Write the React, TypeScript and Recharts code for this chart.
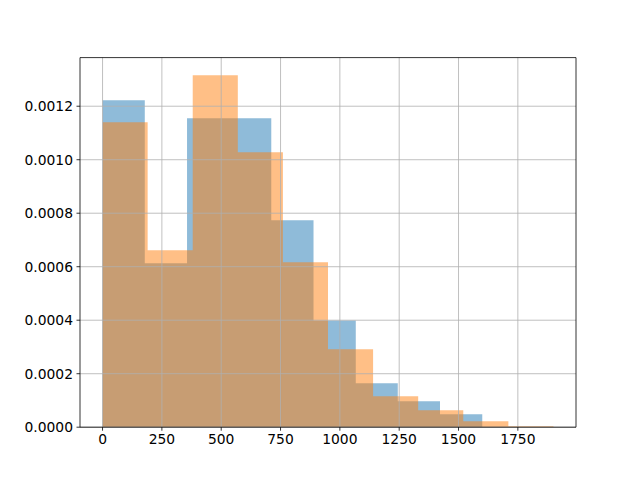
// Two overlapping density histograms (alpha 0.5), drawn as step areas.

import React from 'react'
import {
  ComposedChart,
  Area,
  XAxis,
  YAxis,
  ReferenceLine,
} from 'recharts'

const blueEdges = [0, 178, 356, 533, 711, 889, 1067, 1244, 1422, 1600]
const blueDensity = [0.001222, 0.000613, 0.001155, 0.001155, 0.000774, 0.000399, 0.000164, 0.0000972, 0.0000486]

const orangeEdges = [0, 190, 380, 570, 760, 950, 1140, 1330, 1520, 1710, 1900]
const orangeDensity = [0.00114, 0.000662, 0.001316, 0.001028, 0.000617, 0.000291, 0.000116, 0.0000636, 0.0000224, 0.000004]

const xTicks = [0, 250, 500, 750, 1000, 1250, 1500, 1750]
const yTicks = [0, 0.0002, 0.0004, 0.0006, 0.0008, 0.001, 0.0012]

const X_DOMAIN: [number, number] = [-95, 1995]
const Y_DOMAIN: [number, number] = [0, 0.0013818]

const BLUE = '#1f77b4'
const ORANGE = '#ff7f0e'
const GRID = '#b0b0b0'
const FONT = { fontSize: 13.89, fill: '#000', fontFamily: 'DejaVu Sans' }

function binValue(edges: number[], dens: number[], x: number): number {
  for (let i = 0; i < dens.length; i++) {
    if (x >= edges[i] && x < edges[i + 1]) return dens[i]
  }
  return 0
}

const allEdges = Array.from(new Set([...blueEdges, ...orangeEdges])).sort((a, b) => a - b)
const data = allEdges.map((x) => ({
  x,
  blue: binValue(blueEdges, blueDensity, x),
  orange: binValue(orangeEdges, orangeDensity, x),
}))

export default function App() {
  return (
    <div style={{ position: 'absolute', left: 0, top: 0, width: 640, height: 480, background: '#fff' }}>
      <ComposedChart
        width={640}
        height={480}
        data={data}
        margin={{ top: 57.6, right: 64, left: 0, bottom: 0 }}
      >
        <XAxis
          dataKey="x"
          type="number"
          domain={X_DOMAIN}
          ticks={xTicks}
          allowDataOverflow
          height={52.8}
          tick={FONT}
          tickSize={3.5}
          tickMargin={3.5}
          axisLine={false}
          tickLine={{ stroke: '#000', strokeWidth: 0.8 }}
        />
        <YAxis
          type="number"
          domain={Y_DOMAIN}
          ticks={yTicks}
          allowDataOverflow
          width={80}
          tick={FONT}
          tickFormatter={(v: number) => v.toFixed(4)}
          tickSize={3.5}
          tickMargin={3.5}
          axisLine={false}
          tickLine={{ stroke: '#000', strokeWidth: 0.8 }}
        />
        <Area
          type="stepAfter"
          dataKey="blue"
          fill={BLUE}
          fillOpacity={0.5}
          stroke="none"
          isAnimationActive={false}
        />
        <Area
          type="stepAfter"
          dataKey="orange"
          fill={ORANGE}
          fillOpacity={0.5}
          stroke="none"
          isAnimationActive={false}
        />
        {xTicks.map((t) => (
          <ReferenceLine key={`gx${t}`} x={t} stroke={GRID} strokeWidth={0.8} />
        ))}
        {yTicks.map((t) => (
          <ReferenceLine key={`gy${t}`} y={t} stroke={GRID} strokeWidth={0.8} />
        ))}
        {/* spines */}
        <ReferenceLine x={X_DOMAIN[0]} stroke="#000" strokeWidth={0.8} ifOverflow="visible" />
        <ReferenceLine x={X_DOMAIN[1]} stroke="#000" strokeWidth={0.8} ifOverflow="visible" />
        <ReferenceLine y={Y_DOMAIN[0]} stroke="#000" strokeWidth={0.8} ifOverflow="visible" />
        <ReferenceLine y={Y_DOMAIN[1]} stroke="#000" strokeWidth={0.8} ifOverflow="visible" />
      </ComposedChart>
    </div>
  )
}
